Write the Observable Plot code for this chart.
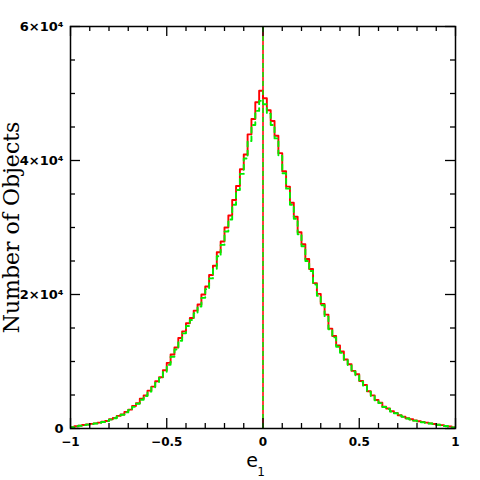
<!DOCTYPE html>
<html>
<head>
<meta charset="utf-8">
<script src="https://cdn.jsdelivr.net/npm/d3@7"></script>
<script src="https://cdn.jsdelivr.net/npm/@observablehq/plot@0.6"></script>
<style>
  html, body { margin: 0; padding: 0; background: #fff; }
</style>
</head>
<body>
<div id="chart"></div>
<script>
// Left edges of the histogram bins (bin width 0.02)
const binLeft = [
  -1.00,-0.98,-0.96,-0.94,-0.92,-0.90,-0.88,-0.86,-0.84,-0.82,
  -0.80,-0.78,-0.76,-0.74,-0.72,-0.70,-0.68,-0.66,-0.64,-0.62,
  -0.60,-0.58,-0.56,-0.54,-0.52,-0.50,-0.48,-0.46,-0.44,-0.42,
  -0.40,-0.38,-0.36,-0.34,-0.32,-0.30,-0.28,-0.26,-0.24,-0.22,
  -0.20,-0.18,-0.16,-0.14,-0.12,-0.10,-0.08,-0.06,-0.04,-0.02,
   0.00, 0.02, 0.04, 0.06, 0.08, 0.10, 0.12, 0.14, 0.16, 0.18,
   0.20, 0.22, 0.24, 0.26, 0.28, 0.30, 0.32, 0.34, 0.36, 0.38,
   0.40, 0.42, 0.44, 0.46, 0.48, 0.50, 0.52, 0.54, 0.56, 0.58,
   0.60, 0.62, 0.64, 0.66, 0.68, 0.70, 0.72, 0.74, 0.76, 0.78,
   0.80, 0.82, 0.84, 0.86, 0.88, 0.90, 0.92, 0.94, 0.96, 0.98
];
const binWidth = 0.02;

// Red (solid) histogram counts
const redCounts = [
  200,340,430,520,590,690,760,880,1000,1130,
  1380,1580,1880,2080,2480,2820,3350,3760,4450,4950,
  5650,6250,7050,7650,8700,9800,11050,12100,13500,14500,
  15700,16500,17600,18500,20000,21200,22900,24300,26300,27900,
  30000,31800,34100,36200,38700,40900,43900,46200,48700,50400,
  49300,47500,45900,43700,41100,38400,36100,33700,31600,29300,
  27500,25300,23800,21700,20100,18600,17000,14900,13800,12400,
  11500,10300,9600,8600,8100,7100,6500,5550,4950,4250,
  3850,3250,2980,2580,2320,1980,1770,1530,1370,1190,
  1090,960,880,760,680,570,500,390,310,170
];

// Green (dashed) histogram counts
const greenCounts = [
  180,320,420,500,580,660,750,850,970,1110,
  1330,1540,1800,2050,2400,2760,3230,3700,4300,4850,
  5500,6150,6850,7550,8450,9500,10700,11800,13100,14200,
  15300,16200,17200,18200,19500,20800,22400,23800,25700,27400,
  29400,31200,33400,35600,38000,40300,42900,45300,47400,48900,
  48400,47000,45300,43300,40700,38100,35800,33400,31300,29000,
  27200,25000,23500,21500,19800,18400,16700,14800,13600,12200,
  11300,10200,9400,8500,7900,7000,6350,5500,4850,4200,
  3780,3200,2920,2540,2270,1950,1740,1500,1340,1170,
  1060,940,850,740,660,560,480,380,290,160
];

// Narrow spike at e1 = 0 (runs off the top of the plot)
const spikeX = [0];

// Axis ticks
const xMajorTicks = [-1, -0.5, 0, 0.5, 1];
const xMinorTicks = [-0.9,-0.8,-0.7,-0.6,-0.4,-0.3,-0.2,-0.1,0.1,0.2,0.3,0.4,0.6,0.7,0.8,0.9];
const yMajorTicks = [0, 20000, 40000, 60000];
const yMinorTicks = [5000,10000,15000,25000,30000,35000,45000,50000,55000];
const yTickLabels = ["0", "2×10⁴", "4×10⁴", "6×10⁴"];
const xTickLabels = ["−1", "−0.5", "0", "0.5", "1"];

// Build step outline from bins
function stepPoints(counts) {
  const pts = [{x: binLeft[0], y: 0}];
  binLeft.forEach((x0, i) => {
    pts.push({x: x0, y: counts[i]});
    pts.push({x: x0 + binWidth, y: counts[i]});
  });
  pts.push({x: binLeft[binLeft.length - 1] + binWidth, y: 0});
  return pts;
}
const redSteps = stepPoints(redCounts);
const greenSteps = stepPoints(greenCounts);

const W = 480, H = 480;
const mL = 70, mR = 25, mT = 26, mB = 52;
const innerH = H - mT - mB;
const innerW = W - mL - mR;
const majorLen = 10, minorLen = 5;
const tickFont = "'DejaVu Sans', sans-serif";

const chart = Plot.plot({
  width: W,
  height: H,
  marginLeft: mL,
  marginRight: mR,
  marginTop: mT,
  marginBottom: mB,
  style: {fontFamily: tickFont, fontSize: "12px", color: "#000", background: "#fff"},
  x: {domain: [-1, 1]},
  y: {domain: [0, 60000]},
  marks: [
    // histograms
    Plot.line(redSteps, {x: "x", y: "y", stroke: "#ff0000", strokeWidth: 1.9, clip: true}),
    Plot.ruleX(spikeX, {x: d => d, y1: 0, y2: 60000, stroke: "#ff0000", strokeWidth: 1.5}),
    Plot.line(greenSteps, {x: "x", y: "y", stroke: "#00ee00", strokeWidth: 1.9, strokeDasharray: "5,4", clip: true}),
    Plot.ruleX(spikeX, {x: d => d, y1: 0, y2: 60000, stroke: "#00ee00", strokeWidth: 1.5, strokeDasharray: "5,4"}),
    // inward ticks, x (bottom and top)
    Plot.tickX(xMajorTicks, {x: d => d, insetTop: innerH - majorLen, stroke: "#000", strokeWidth: 1.3}),
    Plot.tickX(xMajorTicks, {x: d => d, insetBottom: innerH - majorLen, stroke: "#000", strokeWidth: 1.3}),
    Plot.tickX(xMinorTicks, {x: d => d, insetTop: innerH - minorLen, stroke: "#000", strokeWidth: 1.3}),
    Plot.tickX(xMinorTicks, {x: d => d, insetBottom: innerH - minorLen, stroke: "#000", strokeWidth: 1.3}),
    // inward ticks, y (left and right)
    Plot.tickY(yMajorTicks, {y: d => d, insetRight: innerW - majorLen, stroke: "#000", strokeWidth: 1.3}),
    Plot.tickY(yMajorTicks, {y: d => d, insetLeft: innerW - majorLen, stroke: "#000", strokeWidth: 1.3}),
    Plot.tickY(yMinorTicks, {y: d => d, insetRight: innerW - minorLen, stroke: "#000", strokeWidth: 1.3}),
    Plot.tickY(yMinorTicks, {y: d => d, insetLeft: innerW - minorLen, stroke: "#000", strokeWidth: 1.3}),
    // tick labels
    Plot.axisX({ticks: xMajorTicks, tickSize: 0, tickPadding: 9, tickFormat: d => xTickLabels[xMajorTicks.indexOf(d)], label: null, fontSize: 12, fontWeight: "bold", fontFamily: tickFont}),
    Plot.axisY({ticks: yMajorTicks, tickSize: 0, tickPadding: 7, tickFormat: d => yTickLabels[yMajorTicks.indexOf(d)], label: null, fontSize: 13, fontWeight: "bold", fontFamily: tickFont}),
    Plot.frame({stroke: "#000", strokeWidth: 1.5}),
    // axis titles: "e" with subscript "1"
    Plot.text(["e"], {frameAnchor: "bottom", dx: -11, dy: 38, fontSize: 19, fontFamily: "'DejaVu Sans', sans-serif", fill: "#000"}),
    Plot.text(["1"], {frameAnchor: "bottom", dx: -2, dy: 47, fontSize: 12, fontFamily: "'DejaVu Sans', sans-serif", fill: "#000"}),
    Plot.text(["Number of Objects"], {frameAnchor: "left", textAnchor: "middle", dx: -59, rotate: -90, fontSize: 22, fontFamily: "'DejaVu Serif', serif", fill: "#000"})
  ]
});
document.getElementById("chart").appendChild(chart);
</script>
</body>
</html>
